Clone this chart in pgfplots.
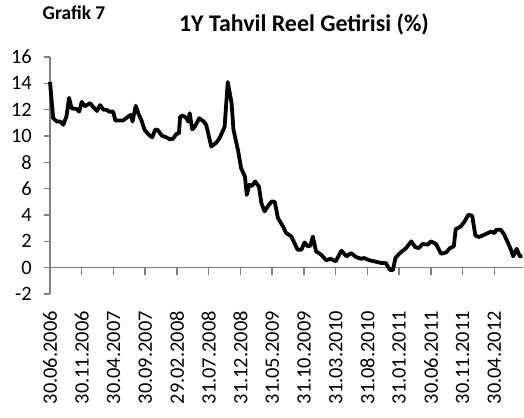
\documentclass[border=0pt]{standalone}
\usepackage{fontspec}
\setmainfont{Carlito}
\usepackage{pgfplots}
\pgfplotsset{compat=1.18}
\pgfplotstableread{
m v
0 14.1
0.5 11.35
1.1 11.1
1.6 11.1
2.1 10.85
2.6 11.5
3.0 12.9
3.4 12.1
4.2 12.05
4.6 11.85
5.0 12.6
5.5 12.25
6.3 12.5
6.8 12.2
7.4 11.9
7.9 12.35
8.4 12.0
8.9 12.0
9.3 11.85
9.95 11.85
10.3 11.17
11.5 11.17
12.3 11.47
12.7 11.6
13.0 11.1
13.5 12.3
14.0 11.6
14.4 11.2
14.9 10.46
15.6 10.08
16.1 9.9
16.6 10.5
17.0 10.45
17.6 10.03
18.3 9.9
18.9 9.75
19.4 9.8
19.9 10.16
20.3 10.2
20.5 11.47
20.95 11.55
21.5 11.35
21.75 11.1
22.0 11.73
22.4 10.5
22.8 10.7
23.5 11.35
24.2 11.1
24.6 10.85
25.4 9.2
26.2 9.5
26.7 9.83
27.5 10.7
28.0 14.1
28.6 12.5
28.9 10.46
29.6 8.95
30.1 7.56
30.7 6.92
31.0 5.53
31.4 6.3
31.8 6.2
32.3 6.55
32.9 6.16
33.3 4.9
33.8 4.27
34.3 4.65
34.9 5.03
35.4 5.0
35.9 3.77
36.7 3.13
37.2 2.63
38.0 2.37
38.5 1.87
39.0 1.36
39.6 1.36
40.1 1.92
40.6 1.62
41.0 1.67
41.4 2.37
41.9 1.24
42.7 0.99
43.5 0.56
44.2 0.68
45.0 0.48
45.9 1.29
46.7 0.86
47.4 1.11
48.2 0.81
49.0 0.68
49.5 0.73
50.3 0.56
51.1 0.48
52.2 0.35
52.9 0.35
53.5 -0.15
54.0 -0.2
54.4 0.73
55.0 1.06
56.1 1.49
56.9 2.0
57.5 1.57
58.1 1.49
58.7 1.8
59.5 1.75
60.0 2.0
60.8 1.8
61.6 1.06
62.4 1.16
63.0 1.49
63.6 1.62
63.9 2.93
64.7 3.13
65.3 3.51
65.9 4.02
66.5 3.94
67.0 2.43
67.6 2.33
68.4 2.5
69.5 2.75
70.0 2.62
70.3 2.88
71.0 2.88
71.5 2.55
72.1 1.92
72.6 1.36
72.95 0.86
73.5 1.43
74.0 0.86
74.4 0.86
}\datatable
\definecolor{axgray}{HTML}{7F7F7F}
\begin{document}
\begin{tikzpicture}
\useasboundingbox (-50bp,-124bp) rectangle (474bp,294bp);
\begin{axis}[
  at={(0,0)}, anchor=south west,
  scale only axis,
  width=473bp, height=237bp,
  xmin=0, xmax=74.5,
  ymin=-2, ymax=16,
  axis lines=left,
  axis line style={-, axgray, line width=1.4bp},
  x axis line style={draw=none},
  xtick={0,5,...,70},
  xticklabels={30.06.2006,30.11.2006,30.04.2007,30.09.2007,29.02.2008,31.07.2008,31.12.2008,31.05.2009,31.10.2009,31.03.2010,31.08.2010,31.01.2011,30.06.2011,30.11.2011,30.04.2012},
  x tick style={draw=none},
  xticklabel style={rotate=90, anchor=east, inner sep=0pt, font=\fontsize{20.5}{24}\selectfont},
  xticklabel shift=11bp,
  ytick={-2,0,...,16},
  y tick style={axgray, line width=1.5bp},
  tick align=outside,
  major tick length=6bp,
  ytick pos=left,
  yticklabel style={font=\fontsize{20.5}{24}\selectfont, inner sep=0pt},
  yticklabel shift=12bp,
  /pgf/number format/assume math mode=true,
  clip=false,
]
\draw[axgray, line width=1.4bp] (axis cs:0,0) -- (axis cs:74.5,0);
\foreach \t in {0,5,...,70}{
  \edef\tmp{\noexpand\draw[axgray, line width=1.5bp] (axis cs:\t,0) -- (axis cs:\t,-0.55);}
  \tmp
}
\addplot[black, line width=3.8bp, line join=round] table[x=m, y=v] {\datatable};
\end{axis}
\node[anchor=base, font=\bfseries\fontsize{19.5}{23}\selectfont] at (24bp,274bp) {Grafik 7};
\node[anchor=base, font=\bfseries\fontsize{24}{28}\selectfont] at (254bp,262.5bp) {1Y Tahvil Reel Getirisi (\%)};
\end{tikzpicture}
\end{document}
